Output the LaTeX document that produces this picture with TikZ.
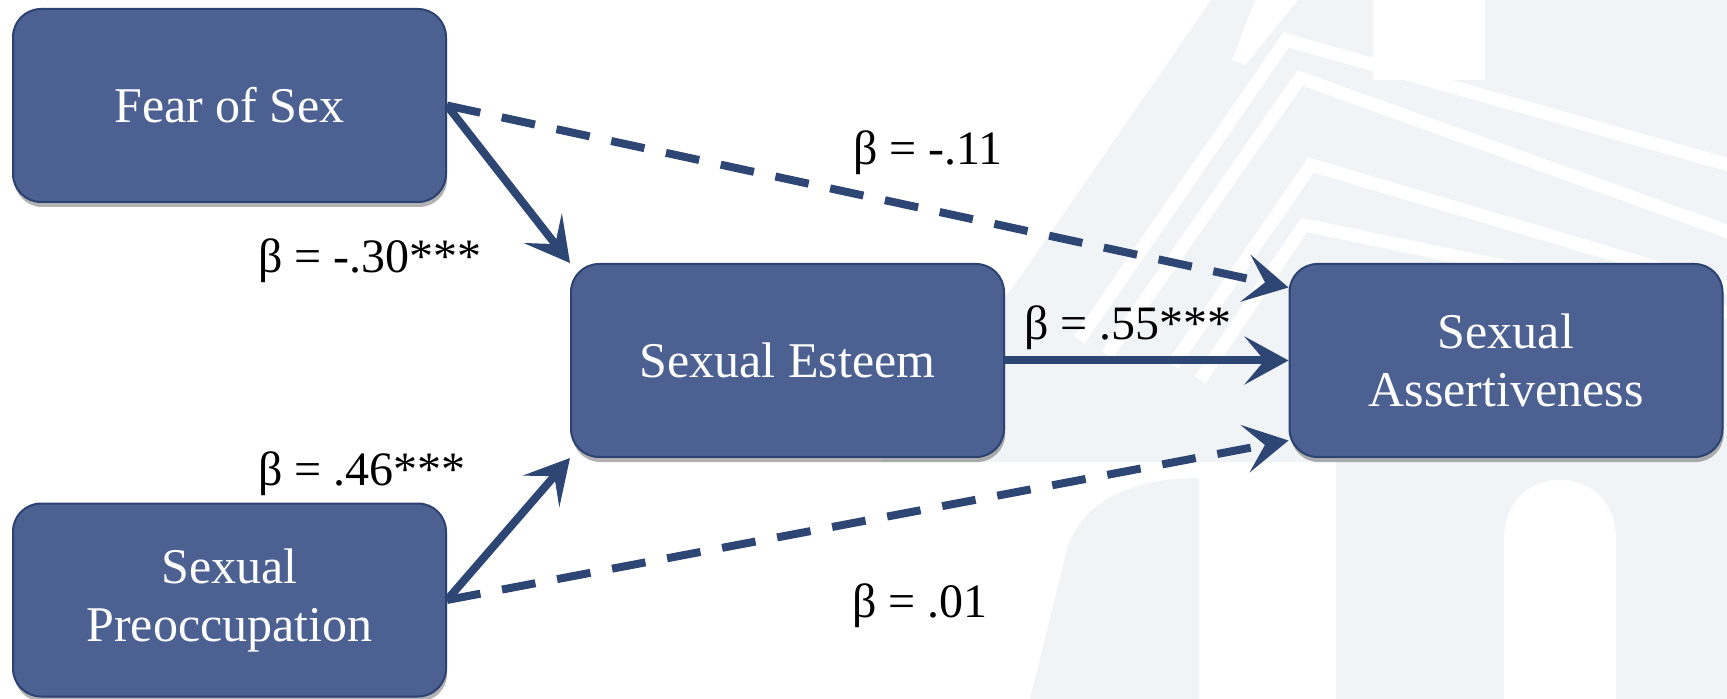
\documentclass[tikz,border=0pt]{standalone}
\usepackage{fontspec}
\setmainfont{Liberation Serif}
\usetikzlibrary{arrows.meta,shadows,calc}
\definecolor{boxfill}{RGB}{76,97,145}
\definecolor{boxline}{RGB}{44,66,112}
\definecolor{arrowcol}{RGB}{46,70,116}
\definecolor{wm}{RGB}{241,244,247}
\begin{document}
\begin{tikzpicture}[x=0.5pt,y=-0.5pt,
  varbox/.style={draw=boxline, line width=1pt, fill=boxfill, rounded corners=14pt,
    minimum width=216.5pt, minimum height=96.5pt, inner sep=0pt, text=white,
    font=\fontsize{25}{29}\selectfont, align=center,
    drop shadow={shadow xshift=0.6pt, shadow yshift=-2.5pt, opacity=0.3, fill=black}},
  solidarr/.style={draw=arrowcol, line width=4pt, -{Stealth[length=22pt,width=24pt,inset=10pt]}},
  dasharr/.style={solidarr, dash pattern=on 17pt off 11pt},
  coef/.style={font=\fontsize{24}{28}\selectfont, anchor=base, inner sep=0pt}]
\useasboundingbox (0,0) rectangle (1727,699);
% watermark
\begin{scope}
\clip (0,0) rectangle (1727,699);
\fill[wm] (1211,0) -- (1727,0) -- (1727,462) -- (880,462) -- (1018,280) -- cycle;
\draw[white, line width=6.5pt] (1079,340) -- (1286,40) -- (1740,168);
\draw[white, line width=6.5pt] (1107,355) -- (1300,78) -- (1740,236);
\draw[white, line width=6.5pt] (1173,365) -- (1311,165) -- (1740,292);
\draw[white, line width=6.5pt] (1200,380) -- (1304,225) -- (1740,315);
\fill[white] (1373,0) rectangle (1485,80);
\fill[white] (1255,0) -- (1298,0) -- (1245,65) -- (1232,60) -- cycle;
\fill[wm] (1030,699) -- (1068,545) .. controls (1090,490) and (1150,478) .. (1199,478) -- (1199,699) -- cycle;
\fill[wm] (1336,462) -- (1727,462) -- (1727,699) -- (1616,699) -- (1616,540)
  .. controls (1616,500) and (1590,480) .. (1560,480)
  .. controls (1530,480) and (1504,500) .. (1504,540) -- (1504,699) -- (1336,699) -- cycle;
\end{scope}
% boxes
\node[varbox] (fear) at (229.5,105.5) {Fear of Sex};
\node[varbox] (esteem) at (787.5,360.5) {Sexual Esteem};
\node[varbox] (assert) at (1506,360.5) {Sexual\\Assertiveness};
\node[varbox] (preocc) at (229.5,600) {Sexual\\Preoccupation};
% connectors
\draw[solidarr] (fear.east) -- (esteem.north west);
\draw[solidarr] (preocc.east) -- (esteem.south west);
\draw[solidarr] (esteem.east) -- (assert.west);
\draw[dasharr] (fear.east) -- ($(assert.west)+(0,-73)$);
\draw[dasharr] (preocc.east) -- ($(assert.west)+(0,80)$);
% labels
\node[coef] (l1) at (928,165) {β = -.11};
\node[coef] (l2) at (370,273) {β = -.30***};
\node[coef] (l3) at (1128,340) {β = .55***};
\node[coef] (l4) at (362,485) {β = .46***};
\node[coef] (l5) at (920,617) {β = .01};
\end{tikzpicture}
\end{document}
